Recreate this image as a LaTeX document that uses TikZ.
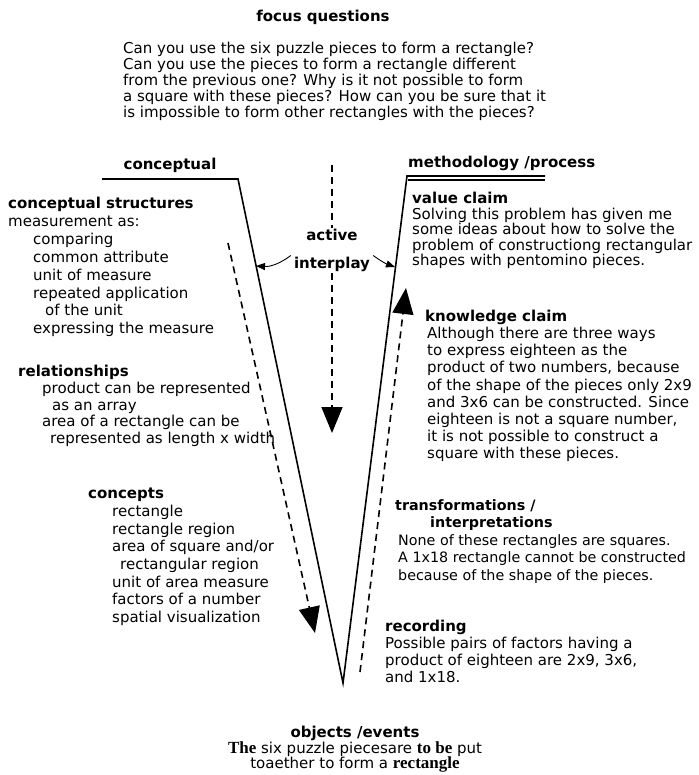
\documentclass[tikz,border=0pt]{standalone}
\usepackage{fontspec}
\setmainfont{DejaVu Sans}
\newfontfamily\printfont{Liberation Serif}
\usetikzlibrary{arrows.meta}

\begin{document}
\begin{tikzpicture}[
    x=1pt, y=-1pt,
    every node/.style={inner sep=0pt},
    vline/.style={line width=1.6pt},
    dasharrow/.style={line width=1.6pt, dash pattern=on 7pt off 5pt, -{Triangle[width=21pt,length=26pt]}},
    bentarrow/.style={line width=0.9pt, -{Triangle[width=7pt,length=9pt]}},
    heading/.style={font=\fontsize{15}{17}\selectfont\bfseries},
    block/.style={align=left, anchor=north west, font=\fontsize{15}{#1}\selectfont},
    block/.default=17
]
\useasboundingbox (0,0) rectangle (698,775);

\node[heading, anchor=base] (focus) at (323,22) {focus questions};
\node[block=16] (questions) at (123,42) {Can you use the six puzzle pieces to form a rectangle?\\
    Can you use the pieces to form a rectangle different\\
    from the previous one? Why is it not possible to form\\
    a square with these pieces? How can you be sure that it\\
    is impossible to form other rectangles with the pieces?};

% the V
\coordinate (ltail) at (102,179);
\coordinate (lcorner) at (238,179);
\coordinate (vtx) at (343,683);
\coordinate (rcorner) at (407,176);
\coordinate (rtail) at (545,176);
\coordinate (rcorner2) at (408,180);
\coordinate (rtail2) at (545,180);
\draw[vline] (ltail) -- (lcorner) -- (vtx) -- (rcorner) -- (rtail);
\draw[line width=1.2pt] (rcorner2) -- (rtail2);

\node[heading, anchor=base] (conceptual) at (170,170) {conceptual};
\node[heading, anchor=base west] (method) at (408,168) {methodology /process};

% active interplay
\node[heading, fill=white, inner sep=1pt] (act) at (332,235) {active};
\node[heading, fill=white, inner sep=1pt] (inter) at (332,264) {interplay};
\coordinate (ctop) at (332,165);
\coordinate (cend) at (332,433);
\draw[line width=1.6pt, dash pattern=on 7pt off 5pt] (ctop) -- (act.north);
\draw[dasharrow] (inter.south) -- (cend);

\coordinate (lhit) at (256,266);
\coordinate (rhit) at (395,267);
\draw[bentarrow] ([xshift=-2pt]inter.north west) to[bend left=20] (lhit);
\draw[bentarrow] ([xshift=2pt]inter.north east) to[bend right=8] (rhit);

\coordinate (lstart) at (228,243);
\coordinate (lend) at (315,633);
\coordinate (rstart) at (360,672);
\coordinate (rend) at (406,288);
\draw[dasharrow] (lstart) -- (lend);
\draw[dasharrow] (rstart) -- (rend);

% conceptual side
\node[block=17.9] (cstruct) at (8,197) {\textbf{conceptual structures}\\
    measurement as:\\
    \hspace*{25pt}comparing\\
    \hspace*{25pt}common attribute\\
    \hspace*{25pt}unit of measure\\
    \hspace*{25pt}repeated application\\
    \hspace*{37pt}of the unit\\
    \hspace*{25pt}expressing the measure};
\node[block=16.8] (relations) at (18,365) {\textbf{relationships}\\
    \hspace*{24pt}product can be represented\\
    \hspace*{34pt}as an array\\
    \hspace*{24pt}area of a rectangle can be\\
    \hspace*{32pt}represented as length x width};
\node[block=17.7] (concepts) at (88,488) {\textbf{concepts}\\
    \hspace*{24pt}rectangle\\
    \hspace*{24pt}rectangle region\\
    \hspace*{24pt}area of square and/or\\
    \hspace*{32pt}rectangular region\\
    \hspace*{24pt}unit of area measure\\
    \hspace*{24pt}factors of a number\\
    \hspace*{24pt}spatial visualization};

% methodology side
\node[block=15.5] (value) at (412,192) {\textbf{value claim}\\
    Solving this problem has given me\\
    some ideas about how to solve the\\
    problem of constructiong rectangular\\
    shapes with pentomino pieces.};
\node[block=17.1] (knowledge) at (425,310) {\textbf{knowledge claim}\\
    \hspace*{2pt}Although there are three ways\\
    \hspace*{2pt}to express eighteen as the\\
    \hspace*{2pt}product of two numbers, because\\
    \hspace*{2pt}of the shape of the pieces only 2x9\\
    \hspace*{2pt}and 3x6 can be constructed. Since\\
    \hspace*{2pt}eighteen is not a square number,\\
    \hspace*{2pt}it is not possible to construct a\\
    \hspace*{2pt}square with these pieces.};
\node[block, font=\fontsize{14.3}{17.5}\selectfont] (transform) at (395,499) {\textbf{transformations /}\\
    \hspace*{35pt}\textbf{interpretations}\\
    \hspace*{3pt}None of these rectangles are squares.\\
    \hspace*{3pt}A 1x18 rectangle cannot be constructed\\
    \hspace*{3pt}because of the shape of the pieces.};
\node[block=17] (recording) at (385,620) {\textbf{recording}\\
    Possible pairs of factors having a\\
    product of eighteen are 2x9, 3x6,\\
    and 1x18.};

\node[align=center, anchor=north, font=\fontsize{15}{15.5}\selectfont] (events) at (355,726) {\textbf{objects /events}\\
    {\printfont\fontsize{17}{15.5}\selectfont\bfseries The} six puzzle piecesare {\printfont\fontsize{17}{15.5}\selectfont\bfseries to be} put\\
    toaether to form a {\printfont\fontsize{17}{15.5}\selectfont\bfseries rectangle}};
\end{tikzpicture}
\end{document}
